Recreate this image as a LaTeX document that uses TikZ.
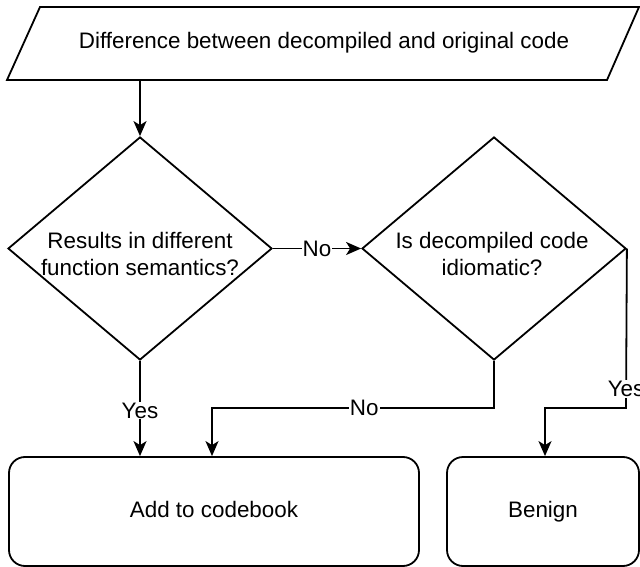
\documentclass[tikz,border=0pt]{standalone}
\usepackage{fontspec}
\setmainfont{Liberation Sans}
\usetikzlibrary{arrows.meta,shapes.geometric}
\begin{document}
\begin{tikzpicture}[x=1pt,y=-1pt,
  every node/.style={font=\fontsize{22.4}{27}\selectfont},
  ln/.style={line width=1.8pt},
  arr/.style={ln,-{Stealth[length=15pt,width=13pt,inset=4pt]}},
  dia/.style={ln,draw,diamond,inner sep=0pt,minimum width=264pt,minimum height=223pt},
  box/.style={ln,draw,rounded corners=16pt,minimum height=109pt,inner sep=0pt,text height=16pt,text depth=5pt},
  lbl/.style={fill=white,inner sep=1pt}]
\useasboundingbox (0,0) rectangle (640,567);
% input parallelogram
\draw[ln,line join=miter] (40,7) -- (639,7) -- (607,80) -- (7,80) -- cycle;
\node (input) at (324,43) {Difference between decompiled and original code};
\coordinate (inb) at (140,80);
% decisions
\node[dia] (d1) at (140,248.5) {};
\node[align=center] (t1) at (140,254) {Results in different\\function semantics?};
\node[dia] (d2) at (494,248.5) {};
\node[align=center] (t2) at (492,254) {Is decompiled code\\idiomatic?};
% outcomes
\node[box,minimum width=410pt] (add) at (214,511.5) {Add to codebook};
\node[box,minimum width=192pt] (ben) at (543,511.5) {Benign};
% connectors
\draw[arr] (inb) -- (d1.north);
\draw[arr] (d1.east) -- node[lbl] {No} (d2.west);
\draw[arr] (d1.south) -- node[lbl,pos=0.52] {Yes} (d1.south |- add.north);
\coordinate (nt) at (212,408);
\draw[arr] (d2.south) |- node[lbl,pos=0.73] {No} (nt) -- (nt |- add.north);
\coordinate (yt) at (626,408);
\coordinate (yb) at (545,408);
\draw[arr] (d2.east) -- node[lbl,pos=0.88] {Yes} (yt) -- (yb) -- (yb |- ben.north);
\end{tikzpicture}
\end{document}
